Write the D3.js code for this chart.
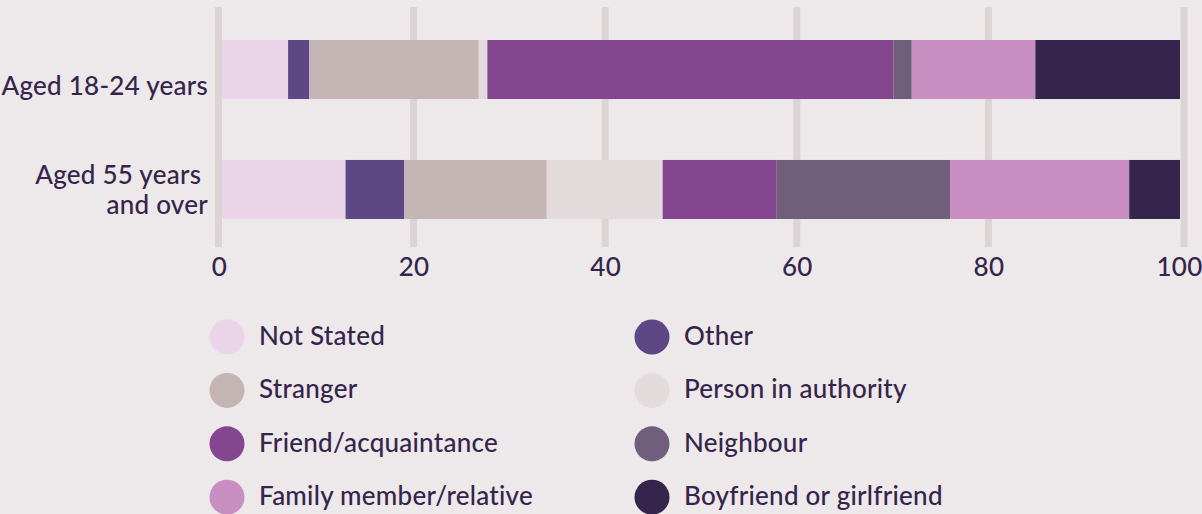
<!DOCTYPE html>
<html>
<head>
<meta charset="utf-8">
<script src="https://cdn.jsdelivr.net/npm/d3@7"></script>
<style>
  html, body { margin: 0; padding: 0; background: #ede8e9; }
  svg { display: block; }
  text { font-family: Lato, "Open Sans", sans-serif; fill: #35244b; font-weight: 500; letter-spacing: 0.25px; }
</style>
</head>
<body>
<svg id="chart" width="1202" height="514"></svg>
<script>
// ---- data ----
const categories = ["Aged 18-24 years", "Aged 55 years and over"];
const categoryLines = [["Aged 18-24 years"], ["Aged 55 years ", "and over"]];
const seriesNames = ["Not Stated", "Other", "Stranger", "Person in authority",
  "Friend/acquaintance", "Neighbour", "Family member/relative", "Boyfriend or girlfriend"];
const aged18to24 = [6.9, 2.2, 17.7, 0.9, 42.4, 1.9, 12.9, 15.1];
const aged55plus = [12.9, 6.1, 14.9, 12.1, 11.9, 18.1, 18.7, 5.3];
const tickValues = [0, 20, 40, 60, 80, 100];
const colors = ["#ebd3e8", "#5e4785", "#c4b4b4", "#e3dadb", "#83468f", "#6f5f7b", "#c88ec1", "#35244b"];
const legendOrder = ["Not Stated", "Stranger", "Friend/acquaintance", "Family member/relative",
  "Other", "Person in authority", "Neighbour", "Boyfriend or girlfriend"];

const rows = [aged18to24, aged55plus];
const svg = d3.select("#chart");
const FS = "26px";

const x = d3.scaleLinear().domain([0, 100]).range([222, 1180]);
const y = d3.scaleBand().domain(categories).range([10, 249]).paddingInner(0.508).paddingOuter(0.25);
const color = d3.scaleOrdinal().domain(seriesNames).range(colors);

// gridlines
const gridW = 7;
svg.append("g").selectAll("rect").data(tickValues).join("rect")
  .attr("x", d => x(d) - gridW / 2 + (d === 0 ? -3.5 : d === 100 ? 4 : 0))
  .attr("y", 7).attr("width", gridW).attr("height", 240)
  .attr("fill", "#dcd3d5");

// stacked bars
const table = categories.map((c, i) => {
  const o = { category: c };
  seriesNames.forEach((s, j) => o[s] = rows[i][j]);
  return o;
});
const stacked = d3.stack().keys(seriesNames)(table);
svg.append("g").selectAll("g").data(stacked).join("g")
  .attr("fill", d => color(d.key))
  .selectAll("rect").data(d => d).join("rect")
  .attr("x", d => x(d[0]))
  .attr("width", d => x(d[1]) - x(d[0]))
  .attr("y", d => y(d.data.category))
  .attr("height", y.bandwidth());

// x axis
const xAxis = d3.axisBottom(x).tickValues(tickValues).tickSize(0).tickPadding(0);
const gx = svg.append("g").attr("transform", "translate(0,276)").call(xAxis);
gx.select(".domain").remove();
gx.selectAll(".tick text").attr("dy", 0)
  .attr("dx", d => d === 0 ? -3 : 0)
  .attr("text-anchor", d => d === 100 ? "end" : "middle")
  .attr("x", d => d === 100 ? 1202 - x(d) : 0)
  .style("font-family", "Lato, sans-serif").style("font-size", FS).style("font-weight", 500)
  .attr("fill", "#35244b");

// category labels
categories.forEach((c, i) => {
  const lines = categoryLines[i];
  const cy = y(c) + y.bandwidth() / 2;
  const t = svg.append("text").attr("text-anchor", "end").style("font-size", FS)
    .style("white-space", "pre");
  lines.forEach((ln, k) => {
    t.append("tspan").attr("x", 208).attr("y", cy + 25 - 30 * (lines.length - 1 - k)).text(ln);
  });
});

// legend
const lg = svg.append("g").selectAll("g").data(legendOrder).join("g")
  .attr("transform", (d, i) => `translate(${i < 4 ? 227 : 652},${337 + 53.4 * (i % 4)})`);
lg.append("circle").attr("r", 17.5).attr("fill", d => color(d));
lg.append("text").attr("x", 32).attr("y", 8).style("font-size", FS).text(d => d);
</script>
</body>
</html>
